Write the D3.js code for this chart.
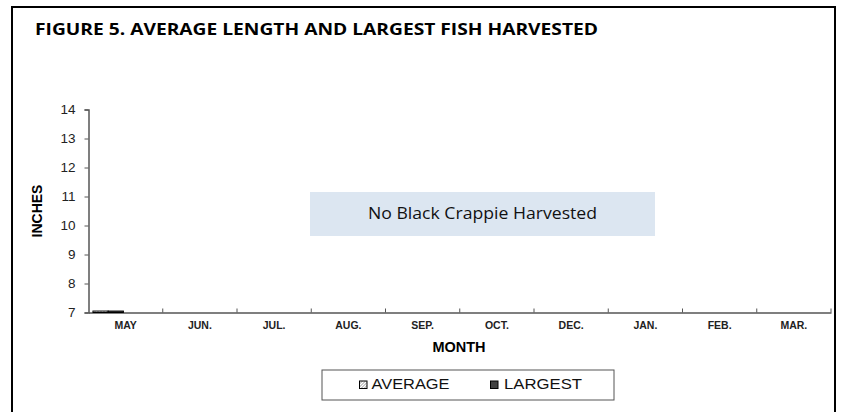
<!DOCTYPE html>
<html><head><meta charset="utf-8">
<script src="https://cdn.jsdelivr.net/npm/d3@7"></script>
<style>body{margin:0;background:#fff}svg{display:block}</style>
</head><body>
<script>
const months = ["MAY","JUN.","JUL.","AUG.","SEP.","OCT.","DEC.","JAN.","FEB.","MAR."];
const average = [7.05,null,null,null,null,null,null,null,null,null];
const largest = [7.05,null,null,null,null,null,null,null,null,null];
const yTicks = [7,8,9,10,11,12,13,14];
const seriesNames = ["AVERAGE","LARGEST"];

const W=845,H=412;
const svg=d3.select("body").append("svg").attr("width",W).attr("height",H);
const defs=svg.append("defs");
const pat=defs.append("pattern").attr("id","hatch").attr("patternUnits","userSpaceOnUse").attr("width",3).attr("height",3);
pat.append("rect").attr("width",3).attr("height",3).attr("fill","#fff");
pat.append("path").attr("d","M0,3 L3,0").attr("stroke","#777").attr("stroke-width",0.8);

const AR="Arial, 'Liberation Sans', sans-serif";

// outer frame
svg.append("rect").attr("x",12).attr("y",7).attr("width",823).attr("height",420)
  .attr("fill","#fff").attr("stroke","#000").attr("stroke-width",2);

svg.append("text").attr("x",35).attr("y",35).attr("font-family","'Open Sans',sans-serif")
  .attr("font-weight","bold").attr("font-size",16.5).attr("textLength",563).attr("lengthAdjust","spacingAndGlyphs")
  .text("FIGURE 5.  AVERAGE LENGTH AND LARGEST FISH HARVESTED");

const x=d3.scaleBand().domain(months).range([88.5,831]);
const y=d3.scaleLinear().domain([7,14]).range([312.5,109.5]);

const gx=svg.append("g").attr("transform","translate(0,312.5)")
  .call(d3.axisBottom(x).tickSize(0).tickPadding(9));
gx.select(".domain").attr("stroke","#555").attr("stroke-width",1.5);
gx.selectAll("text").attr("font-family",AR).attr("font-weight","bold").attr("font-size",10.5).attr("fill","#222");
// category separator ticks
svg.append("g").selectAll("line").data(months).join("line")
  .attr("x1",(d,i)=>x.range()[0]+x.step()*(i+1)).attr("x2",(d,i)=>x.range()[0]+x.step()*(i+1))
  .attr("y1",308.5).attr("y2",312.5).attr("stroke","#555");

const gy=svg.append("g").attr("transform","translate(88.5,0)")
  .call(d3.axisLeft(y).tickValues(yTicks).tickFormat(d3.format("d")).tickSize(4).tickPadding(9));
gy.select(".domain").attr("stroke","#555").attr("stroke-width",1.5);
gy.selectAll(".tick line").attr("stroke","#555");
gy.selectAll("text").attr("font-family",AR).attr("font-size",13.5).attr("fill","#222");

svg.append("text").attr("transform","translate(41.5,211) rotate(-90)").attr("text-anchor","middle")
  .attr("font-family",AR).attr("font-weight","bold").attr("font-size",14).text("INCHES");
svg.append("text").attr("x",459).attr("y",352).attr("text-anchor","middle")
  .attr("font-family",AR).attr("font-weight","bold").attr("font-size",14.5).text("MONTH");

// bars
const inner=d3.scaleBand().domain(seriesNames).range([x.bandwidth()*0.06,x.bandwidth()*0.47]);
const fills={AVERAGE:"url(#hatch)",LARGEST:"#404040"};
const rows=months.map((m,i)=>({m,vals:[["AVERAGE",average[i]],["LARGEST",largest[i]]]}));
svg.append("g").selectAll("g").data(rows).join("g").attr("transform",d=>`translate(${x(d.m)},0)`)
  .selectAll("rect").data(d=>d.vals.filter(v=>v[1]!=null)).join("rect")
  .attr("x",d=>inner(d[0])).attr("width",inner.bandwidth())
  .attr("y",d=>y(d[1])).attr("height",d=>y(7)-y(d[1]))
  .attr("fill",d=>fills[d[0]]).attr("stroke","#000").attr("stroke-width",1);

// note box
svg.append("rect").attr("x",310).attr("y",192).attr("width",345).attr("height",44).attr("fill","#dce6f1");
svg.append("text").attr("x",482.5).attr("y",219).attr("text-anchor","middle")
  .attr("font-family","'Open Sans',sans-serif").attr("font-size",17).attr("fill","#111")
  .attr("textLength",229).attr("lengthAdjust","spacingAndGlyphs").text("No Black Crappie Harvested");

// legend
svg.append("rect").attr("x",322).attr("y",370).attr("width",292).attr("height",30).attr("fill","#fff").attr("stroke","#555");
const lx=[359.5,490.5];
const lw=[78,78];
const lg=svg.append("g").selectAll("g").data(seriesNames).join("g").attr("transform",(d,i)=>`translate(${lx[i]},381)`);
lg.append("rect").attr("width",7.5).attr("height",7.5).attr("fill",d=>fills[d]).attr("stroke","#000").attr("stroke-width",1);
lg.append("text").attr("x",(d,i)=>i===0?12:13.5).attr("y",8.3).attr("font-family",AR).attr("font-size",15).attr("fill","#111")
  .attr("textLength",(d,i)=>lw[i]).attr("lengthAdjust","spacingAndGlyphs").text(d=>d);
</script>
</body></html>
